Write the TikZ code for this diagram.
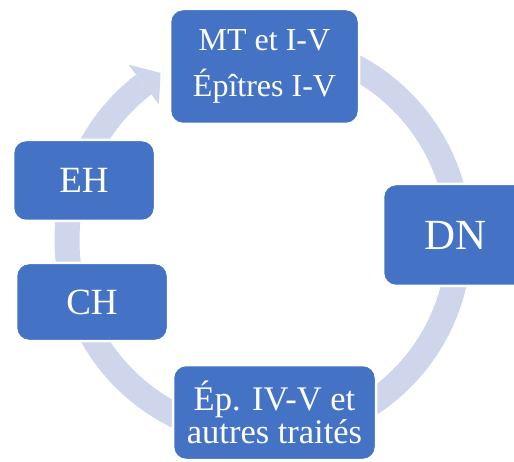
\documentclass[tikz,border=0pt]{standalone}
\usepackage{fontspec}
\setmainfont{Liberation Serif}
\newfontfamily\tnrfont{Liberation Serif}
\definecolor{boxblue}{HTML}{4472C4}
\definecolor{ringblue}{HTML}{CFD5EA}
\tikzset{
  cyclebox/.style={rectangle, rounded corners=13pt, fill=boxblue, draw=white, line width=2.5pt,
    text=white, align=center, inner sep=0pt},
}
\begin{document}
\begin{tikzpicture}[x=1pt,y=1pt]
\useasboundingbox (0,0) rectangle (514,461);
\coordinate (c) at (263,221);
% ring
\draw[ringblue, line width=25pt] ([shift={(90:196)}]c) arc[start angle=90, end angle=-232.5, radius=196];
\fill[ringblue] ([shift={(127.5:221)}]c) -- ([shift={(121.5:196)}]c) -- ([shift={(127.5:171)}]c) -- cycle;
% boxes
\node[cyclebox, minimum width=189pt, minimum height=115pt, font={\tnrfont\fontsize{32}{46.7}\selectfont}] (mt) at (264.5,394.5) {MT et I-V\\Épîtres I-V};
\node[cyclebox, minimum width=145pt, minimum height=102pt, font={\tnrfont\fontsize{43}{48}\selectfont}] (dn) at (455.5,226) {DN};
\node[cyclebox, minimum width=203pt, minimum height=95pt, font={\tnrfont\fontsize{34.5}{30}\selectfont}] (ep) at (274.5,48.5) {Ép. IV-V et\\autres traités};
\node[cyclebox, minimum width=152pt, minimum height=78pt, font={\tnrfont\fontsize{37}{42}\selectfont}] (ch) at (92,159) {CH};
\node[cyclebox, minimum width=142pt, minimum height=81pt, font={\tnrfont\fontsize{37}{42}\selectfont}] (eh) at (84,280.5) {EH};
\end{tikzpicture}
\end{document}
